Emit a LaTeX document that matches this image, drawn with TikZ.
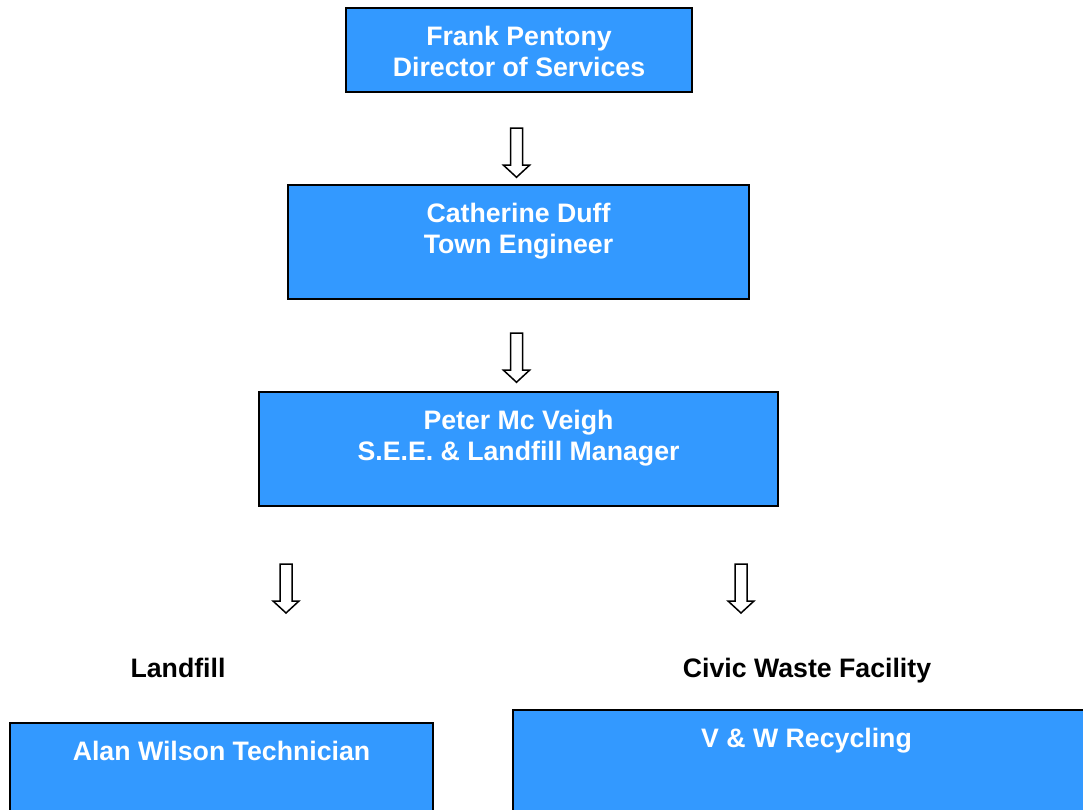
\documentclass[tikz,border=0pt]{standalone}
\usepackage{fontspec}
\setmainfont{Liberation Sans}
\usetikzlibrary{positioning}
\definecolor{boxblue}{HTML}{3399FF}

\tikzset{
  staffbox/.style={draw=black, line width=1.5pt, fill=boxblue, inner sep=0pt},
  stafftext/.style={anchor=north, align=center, text=white, inner sep=0pt,
    font=\fontsize{26.7}{31}\selectfont\bfseries},
  sitelabel/.style={text depth=0pt, font=\fontsize{26.7}{31}\selectfont\bfseries},
  blockarrow/.pic={
    \draw[line width=1.5pt, line join=miter]
      (-6,49) -- (-6,12) -- (-13,12) -- (0,0) -- (13,12) -- (6,12) -- (6,49) -- cycle;
  }
}

\begin{document}
\begin{tikzpicture}[x=1pt,y=1pt]
\useasboundingbox (0,0) rectangle (1083,809);
\clip (0,0) rectangle (1083,809);

% director
\node[staffbox, minimum width=346, minimum height=84] (director) at (519,759) {};
\node[stafftext] (directortxt) at ([yshift=-18.5]director.north) {Frank Pentony\\Director of Services};

% town engineer
\node[staffbox, minimum width=461, minimum height=114] (engineer) at (518.5,567) {};
\node[stafftext] (engineertxt) at ([yshift=-18.5]engineer.north) {Catherine Duff\\Town Engineer};
\pic at ([xshift=-2,yshift=7]engineer.north) {blockarrow};

% landfill manager
\node[staffbox, minimum width=519, minimum height=114] (manager) at (518.5,360) {};
\node[stafftext] (managertxt) at ([yshift=-18.5]manager.north) {Peter Mc Veigh\\S.E.E. \& Landfill Manager};
\pic at ([xshift=-2,yshift=9]manager.north) {blockarrow};

% two sites
\pic at (286,196) {blockarrow};
\pic at (741,196) {blockarrow};
\node[sitelabel] (landfill) at (178,141) {Landfill};
\node[sitelabel] (civic) at (807,141) {Civic Waste Facility};

% bottom boxes
\node[staffbox, minimum width=423, minimum height=130] (technician) at (221.5,21) {};
\node[stafftext] (techniciantxt) at ([yshift=-18.5]technician.north) {Alan Wilson Technician};
\node[staffbox, minimum width=587, minimum height=130] (recycling) at (806.5,34) {};
\node[stafftext] (recyclingtxt) at ([yshift=-18.5]recycling.north) {V \& W Recycling};
\end{tikzpicture}
\end{document}
